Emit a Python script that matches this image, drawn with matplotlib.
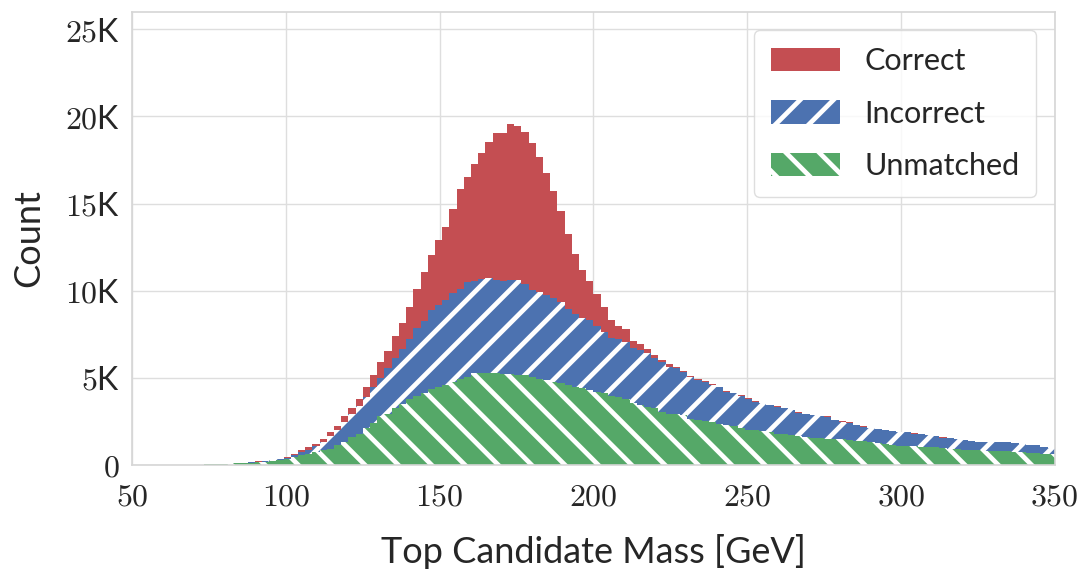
import numpy as np
import matplotlib
matplotlib.use("Agg")
import matplotlib.pyplot as plt
from matplotlib.patches import Patch

# 128 bins between 50 and 350 GeV
mass_lo, mass_hi, n_bins = 50, 350, 128

# counts per bin (bins 0-9 are empty)
unmatched = [0] * 10 + [
    30, 40, 45, 60, 70, 100, 110, 130, 150, 200,
    260, 330, 450, 540, 620, 720, 830, 910, 1160, 1290,
    1600, 1790, 2120, 2410, 2790, 2940, 3250, 3500, 3750, 3950,
    4100, 4350, 4480, 4570, 4760, 4950, 5050, 5240, 5280, 5250,
    5240, 5200, 5190, 5150, 5150, 5050, 4950, 4860, 4760, 4670,
    4570, 4480, 4380, 4280, 4190, 4090, 3940, 3860, 3750, 3560,
    3420, 3330, 3230, 3040, 2940, 2890, 2850, 2650, 2560, 2520,
    2460, 2330, 2270, 2210, 2080, 2020, 1980, 1950, 1850, 1790,
    1750, 1700, 1640, 1600, 1560, 1520, 1500, 1470, 1450, 1410,
    1370, 1350, 1310, 1260, 1180, 1120, 1080, 1060, 1050, 1030,
    1030, 990, 970, 930, 890, 870, 830, 820, 800, 780,
    780, 760, 740, 720, 680, 660, 640, 600]

incorrect = [0] * 10 + [
    0, 0, 5, 5, 10, 10, 30, 40, 50, 60,
    60, 80, 110, 200, 250, 340, 480, 730, 820, 1170,
    1300, 1610, 1780, 2070, 2170, 2590, 2860, 3120, 3450, 3880,
    4170, 4540, 4690, 4890, 5080, 5130, 5420, 5340, 5400, 5470,
    5380, 5360, 5430, 5470, 5240, 4990, 4960, 4900, 4810, 4650,
    4360, 4180, 4040, 4040, 3780, 3560, 3360, 3350, 3300, 3140,
    3170, 3060, 2880, 2840, 2690, 2640, 2450, 2400, 2300, 2240,
    2110, 2110, 1920, 1880, 1880, 1750, 1630, 1570, 1570, 1540,
    1480, 1430, 1350, 1300, 1290, 1270, 1250, 1090, 1010, 1000,
    900, 830, 770, 780, 800, 810, 810, 790, 740, 720,
    670, 650, 590, 580, 560, 540, 540, 490, 510, 530,
    500, 520, 480, 460, 440, 460, 390, 370]

correct = [0] * 10 + [
    0, 0, 0, 0, 0, 5, 10, 15, 30, 20,
    30, 60, 80, 130, 150, 150, 190, 250, 250, 350,
    360, 360, 580, 670, 920, 1020, 1290, 1530, 1840, 2240,
    2770, 3170, 3740, 4180, 4850, 5740, 6030, 6700, 7220, 7810,
    8430, 8480, 8940, 8850, 8730, 8460, 7750, 6990, 6140, 5240,
    4320, 3440, 2770, 2230, 1830, 1390, 1040, 760, 720, 420,
    330, 260, 200, 150, 140, 100, 90, 70, 60, 60,
    55, 50, 50, 45, 40, 40, 40, 35, 35, 35,
    30, 30, 30, 30, 30, 25, 25, 25, 25, 20,
    20, 20, 20, 20, 15, 15, 10, 10, 10, 10,
    10, 10, 10, 10, 10, 10, 10, 10, 10, 10,
    10, 10, 10, 10, 10, 10, 10, 10]

labels = ["Unmatched", "Incorrect", "Correct"]
colors = ["#55A868", "#4C72B0", "#C44E52"]
hatches = ["\\", "/", None]

x_ticks = [50, 100, 150, 200, 250, 300, 350]
x_tick_labels = ["$50$", "$100$", "$150$", "$200$", "$250$", "$300$", "$350$"]
y_ticks = [0, 5000, 10000, 15000, 20000, 25000]
y_tick_labels = ["$0$", "$5$K", "$10$K", "$15$K", "$20$K", "$25$K"]

plt.rcParams["font.family"] = ["Lato", "DejaVu Sans"]
plt.rcParams["mathtext.fontset"] = "cm"
plt.rcParams["hatch.linewidth"] = 3.4
plt.rcParams["hatch.color"] = "white"

edges = np.linspace(mass_lo, mass_hi, n_bins + 1)
centers = 0.5 * (edges[:-1] + edges[1:])

fig = plt.figure(figsize=(10.84, 5.73), dpi=100)
ax = fig.add_axes([0.122, 0.189, 0.851, 0.790])

data = [unmatched, incorrect, correct]
_, _, patches = ax.hist([centers] * 3, bins=edges, weights=data, stacked=True,
                        histtype="stepfilled", color=colors, label=labels)
for group, h in zip(patches, hatches):
    for p in group:
        p.set_linewidth(0)
        if h:
            p.set_hatch(h)
            p.set_edgecolor("white")

ax.set_xlim(mass_lo, mass_hi)
ax.set_ylim(0, 26000)
ax.set_xticks(x_ticks)
ax.set_xticklabels(x_tick_labels)
ax.set_yticks(y_ticks)
ax.set_yticklabels(y_tick_labels)
ax.tick_params(axis="both", length=0, labelsize=23, colors="#262626")
ax.tick_params(axis="x", pad=12)
ax.tick_params(axis="y", pad=9)

ax.grid(True, color="#dedede", linewidth=1)
ax.set_axisbelow(True)
for s in ax.spines.values():
    s.set_color("#d6d6d6")
    s.set_linewidth(1.2)

ax.set_xlabel("Top Candidate Mass [GeV]", fontsize=26, color="#262626", labelpad=16)
ax.set_ylabel("Count", fontsize=26, color="#262626", labelpad=14)

handles = []
for lab, c, h in zip(labels, colors, hatches):
    if h:
        handles.append(Patch(facecolor=c, edgecolor="white", linewidth=0, hatch=h, label=lab))
    else:
        handles.append(Patch(facecolor=c, linewidth=0, label=lab))
leg = ax.legend(handles[::-1], labels[::-1], loc="upper right", fontsize=22,
                handlelength=2.25, handleheight=0.8, handletextpad=0.8,
                labelspacing=0.8, borderpad=0.55, framealpha=0.8,
                edgecolor="#d6d6d6", fancybox=True, borderaxespad=0.6)
for t in leg.get_texts():
    t.set_color("#262626")

fig.savefig("out.png", dpi=100)
